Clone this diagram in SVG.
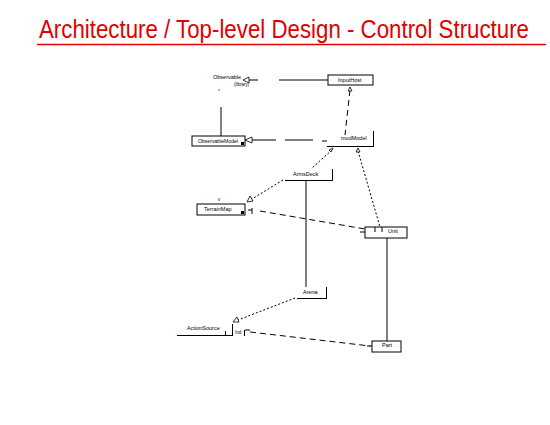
<svg xmlns="http://www.w3.org/2000/svg" width="550" height="425" viewBox="0 0 550 425">
<style>
.t{font-family:"Liberation Sans",Arial,sans-serif;font-size:5.5px;fill:#000}
.s{font-family:"Liberation Sans",Arial,sans-serif;font-size:4.5px;fill:#000}
.b{fill:#fff;stroke:#000;stroke-width:1}
.l{fill:none;stroke:#000;stroke-width:1}
.d{fill:none;stroke:#000;stroke-width:1;stroke-dasharray:6,4}
.p{fill:none;stroke:#000;stroke-width:1;stroke-dasharray:2,2}
.tri{fill:#fff;stroke:#000;stroke-width:0.8}
</style>
<rect width="550" height="425" fill="#fff"/>
<g id="title">
<text transform="translate(39,38) scale(1,1.25)" x="0" y="0" font-family="'Liberation Sans',Arial,sans-serif" font-size="20" fill="#e00000" textLength="490" lengthAdjust="spacingAndGlyphs">Architecture / Top-level Design - Control Structure</text>
<line x1="37" y1="44.5" x2="546" y2="44.5" stroke="#e00000" stroke-width="1.5"/>
</g>
<g id="connectors">
<line class="l" x1="279" y1="80" x2="328" y2="80"/>
<line class="l" x1="248" y1="80" x2="258" y2="80"/>
<polygon class="tri" points="243,80 249,77 249,83"/>
<line class="d" x1="350" y1="90" x2="345" y2="135"/>
<polygon class="tri" points="350,87 348,91 352,91"/>
<line class="l" x1="221" y1="107" x2="221" y2="136"/>
<line class="l" x1="252" y1="140" x2="276" y2="140"/>
<line class="l" x1="285" y1="140" x2="313" y2="140"/>
<line class="l" x1="322" y1="141" x2="327" y2="141"/>
<polygon class="tri" points="245,140 252,137 252,143"/>
<line class="p" x1="332" y1="150" x2="312" y2="168"/>
<polygon class="tri" points="333,148 329,150 331,152"/>
<line class="p" x1="358" y1="151" x2="380" y2="227"/>
<polygon class="tri" points="358,148 356,152 360,152"/>
<line class="p" x1="283" y1="180" x2="252" y2="199"/>
<polygon class="tri" points="247,202 250,196 253,201"/>
<line class="l" x1="306" y1="180" x2="306" y2="287"/>
<line class="d" x1="260" y1="211" x2="365" y2="229"/>
<line class="l" x1="387" y1="238" x2="387" y2="342"/>
<line class="p" x1="295" y1="298" x2="238" y2="320"/>
<polygon class="tri" points="233,322 237,317 239,322"/>
<line class="d" x1="250" y1="332" x2="370" y2="346"/>
</g>
<g id="observable">
<text class="t" x="213" y="79">Observable</text>
<text class="s" x="234" y="86">(library)</text>
<text class="s" x="218" y="93">^</text>
</g>
<g id="inputhost">
<rect class="b" x="328" y="75" width="45" height="10"/>
<text class="t" x="338" y="82">InputHost</text>
</g>
<g id="observablemodel">
<rect class="b" x="192" y="136" width="53" height="10"/>
<text class="t" x="198" y="143" textLength="40" lengthAdjust="spacingAndGlyphs">ObservableModel</text>
<rect x="241" y="142" width="3" height="3" fill="#000"/>
</g>
<g id="mudmodel">
<line class="l" x1="373.5" y1="131" x2="373.5" y2="146"/>
<line class="l" x1="327" y1="146.5" x2="374" y2="146.5"/>
<text class="t" x="341" y="140">mudModel</text>
</g>
<g id="armsdeck">
<line class="l" x1="332.5" y1="169" x2="332.5" y2="180"/>
<line class="l" x1="285" y1="180.5" x2="333" y2="180.5"/>
<text class="t" x="293" y="176">ArmsDeck</text>
</g>
<g id="terrainmap">
<rect class="b" x="197" y="204" width="48" height="11"/>
<text class="t" x="204" y="211">TerrainMap</text>
<text class="s" x="218" y="201">v</text>
<rect x="241" y="211" width="3" height="3" fill="#000"/>
<line class="l" x1="248" y1="210" x2="252" y2="210"/>
<line class="l" x1="252" y1="208" x2="252" y2="214"/>
</g>
<g id="unit">
<rect class="b" x="365" y="227" width="42" height="11"/>
<line class="l" x1="360" y1="232" x2="365" y2="232"/>
<line class="l" x1="375" y1="227" x2="375" y2="232"/>
<line class="l" x1="382" y1="227" x2="382" y2="232"/>
<text class="t" x="388" y="233">Unit</text>
</g>
<g id="arena">
<line class="l" x1="326.5" y1="287" x2="326.5" y2="298"/>
<line class="l" x1="297" y1="298.5" x2="327" y2="298.5"/>
<text class="t" x="303" y="294">Arena</text>
</g>
<g id="actionsource">
<text class="t" x="187" y="330">ActionSource</text>
<line class="l" x1="177" y1="335.5" x2="232" y2="335.5"/>
<line class="l" x1="225.5" y1="331" x2="225.5" y2="336"/>
<line class="l" x1="232.5" y1="324" x2="232.5" y2="336"/>
<text class="s" x="235" y="334">Ind</text>
<line class="l" x1="245" y1="330" x2="250" y2="330"/>
<line class="l" x1="244.5" y1="330" x2="244.5" y2="336"/>
</g>
<g id="part">
<rect class="b" x="372" y="341" width="29" height="11"/>
<line class="l" x1="367" y1="346" x2="372" y2="346"/>
<text class="t" x="382" y="347">Part</text>
</g>
</svg>
